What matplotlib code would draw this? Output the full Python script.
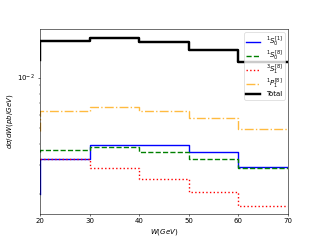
import numpy as np
import matplotlib
matplotlib.use("Agg")
from matplotlib import pyplot as plt

# bin edges in W (GeV); first value of each series is the starting point at W=20
w_edges = [20, 30, 40, 50, 60, 70]
s0_1 = [0.00201, 0.00327, 0.00392, 0.00397, 0.00357, 0.00292]
s0_8 = [0.00360, 0.00369, 0.00383, 0.00360, 0.00325, 0.00288]
s1_8 = [0.00325, 0.00325, 0.00288, 0.00245, 0.00206, 0.00171]
p1_8 = [0.00480, 0.00632, 0.00668, 0.00632, 0.00570, 0.00495]
total = [0.01270, 0.01660, 0.01736, 0.01643, 0.01460, 0.01240]

fig, ax = plt.subplots(figsize=(6.4, 4.8), dpi=50)

ax.step(w_edges, s0_1, where='pre', color='b', lw=2, label=r'$^1S_0^{[1]}$')
ax.step(w_edges, s0_8, where='pre', color='g', ls='--', lw=2, label=r'$^1S_0^{[8]}$')
ax.step(w_edges, s1_8, where='pre', color='r', ls=':', lw=2, label=r'$^3S_1^{[8]}$')
ax.step(w_edges, p1_8, where='pre', color='orange', ls='-.', lw=2, alpha=0.75, label=r'$^1P_1^{[8]}$')
ax.step(w_edges, total, where='pre', color='k', lw=3.5, label='Total')

ax.set_yscale('log')
ax.set_xlim(20, 70)
ax.set_ylim(1.53e-3, 1.96e-2)
ax.set_xlabel(r'$W(GeV)$')
ax.set_ylabel(r'$d\sigma/dW(pb/GeV)$')
ax.legend(loc='upper right', labelspacing=0.0, borderpad=0.3)

plt.savefig("out.png", dpi=50)
